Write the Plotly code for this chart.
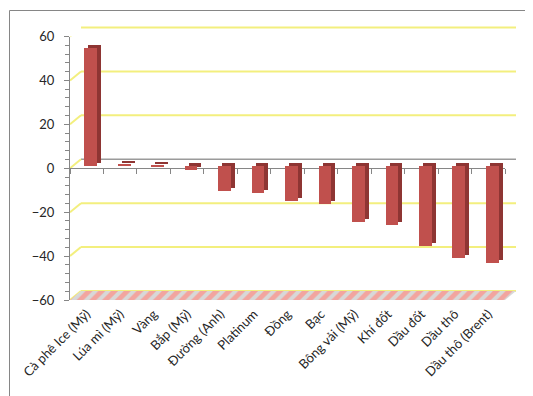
import plotly.graph_objects as go

categories = ["Cà phê Ice (Mỹ)", "Lúa mì (Mỹ)", "Vàng", "Bắp (Mỹ)", "Đường (Anh)",
              "Platinum", "Đồng", "Bạc", "Bông vải (Mỹ)", "Khí đốt", "Dầu đốt",
              "Dầu thô", "Dầu thô (Brent)"]
values = [53.5, 0.8, -0.5, -1.8, -11.5, -12.5, -16, -17.5, -25.5, -27, -36.5, -42, -44.5]
y_ticks = [-60, -40, -20, 0, 20, 40, 60]

W, H = 533, 396
def dx(a, b):
    return [a / W, b / W]
def dy(top, bottom):
    return [(H - bottom) / H, (H - top) / H]

FONT = "Lato"
GRAY = "#868686"
YELLOW = "#F3EF7E"
RED = "#C0504D"
DARK = "#8E3533"
n = len(categories)
xr = [-0.5, n - 0.5]
idx = list(range(n))

fig = go.Figure()

# floor (hatched)
fig.add_trace(go.Scatter(x=[0, 435 / 446, 1, 11 / 446, 0], y=[0, 0, 1, 1, 0],
                         xaxis="x2", yaxis="y2", mode="lines", fill="toself",
                         line=dict(width=0), fillcolor="rgba(0,0,0,0)",
                         fillpattern=dict(shape="/", bgcolor="#F2A59F", fgcolor="#D8D8D8",
                                          size=9, solidity=0.45),
                         hoverinfo="skip", showlegend=False))
# side faces
fig.add_trace(go.Bar(x=idx, y=values, xaxis="x4", yaxis="y4", width=0.38,
                     marker=dict(color=DARK, line=dict(width=0)),
                     hoverinfo="skip", showlegend=False))
# front faces
fig.add_trace(go.Bar(x=idx, y=values, xaxis="x5", yaxis="y5", width=0.38,
                     marker=dict(color=RED, line=dict(width=0)),
                     showlegend=False))
fig.add_trace(go.Scatter(x=[0], y=[0], xaxis="x", yaxis="y", mode="markers",
                         marker=dict(opacity=0), hoverinfo="skip", showlegend=False))
fig.add_trace(go.Scatter(x=[0], y=[0], xaxis="x6", yaxis="y", mode="markers",
                         marker=dict(opacity=0), hoverinfo="skip", showlegend=False))

hidden_x = dict(range=xr, visible=False, fixedrange=True, automargin=False)
hidden_y = dict(range=[-60, 60], visible=False, fixedrange=True, automargin=False)

fig.update_layout(
    template="none",
    width=W, height=H,
    margin=dict(l=0, r=0, t=0, b=0, autoexpand=False),
    paper_bgcolor="white", plot_bgcolor="rgba(0,0,0,0)",
    showlegend=False,
    bargap=0,
    font=dict(family=FONT, size=12, color="#262626"),
    xaxis=dict(domain=dx(62, 497), range=xr, anchor="y", tickmode="array",
               tickvals=idx, ticktext=categories, tickangle=-45, automargin=False,
               showline=False, ticks="", showgrid=False, zeroline=False,
               ticklabelstandoff=3,
               tickfont=dict(family=FONT, size=13, color="#262626")),
    yaxis=dict(domain=dy(28.5, 292), range=[-60, 60], anchor="x", automargin=False,
               tickvals=y_ticks, showgrid=False, zeroline=False,
               showline=True, linecolor=GRAY, linewidth=1,
               ticks="outside", ticklen=5, tickcolor=GRAY, ticklabelstandoff=7,
               minor=dict(dtick=4, ticks="outside", ticklen=4, tickcolor=GRAY, showgrid=False),
               tickfont=dict(family=FONT, size=13, color="#262626")),
    xaxis2=dict(domain=dx(62, 508), range=[0, 1], anchor="y2", visible=False, automargin=False),
    yaxis2=dict(domain=dy(283, 292), range=[0, 1], anchor="x2", visible=False, automargin=False),
    xaxis3=dict(domain=dx(73, 508), range=xr, anchor="y3", visible=False, automargin=False),
    yaxis3=dict(domain=dy(19.5 - 2.2, 283 + 2.2), range=[-61, 61], anchor="x3",
                automargin=False, visible=False),
    xaxis4=dict(domain=dx(70, 505), anchor="y4", **hidden_x),
    yaxis4=dict(domain=dy(22.5, 286), anchor="x4", **hidden_y),
    xaxis5=dict(domain=dx(66, 501), anchor="y5", **hidden_x),
    yaxis5=dict(domain=dy(25.5, 289), anchor="x5", **hidden_y),
    xaxis6=dict(overlaying="x", anchor="free", position=(H - 160) / H, automargin=False,
                range=xr, tickmode="linear", tick0=-0.5, dtick=1,
                ticks="outside", ticklen=5, tickcolor=GRAY,
                showticklabels=False, showline=True, linecolor=GRAY,
                linewidth=1, showgrid=False, zeroline=False),
)

shapes = []
# back-wall gridlines
for v in y_ticks:
    shapes.append(dict(type="line", xref="x3 domain", x0=0, x1=1, yref="y3", y0=v, y1=v,
                       line=dict(color=("#9A9A9A" if v == 0 else YELLOW),
                                 width=(1.5 if v == 0 else 2)), layer="below"))
# side-wall diagonals
for v in y_ticks:
    shapes.append(dict(type="line", xref="paper", xsizemode="pixel", xanchor=62 / W,
                       x0=0, x1=11, yref="y", ysizemode="pixel", yanchor=v,
                       y0=0, y1=9, line=dict(color=YELLOW, width=2), layer="below"))
shapes.append(dict(type="rect", xref="paper", yref="paper",
                   x0=1.5 / W, x1=531.5 / W, y0=(H - 392.5) / H, y1=(H - 2.5) / H,
                   line=dict(color=GRAY, width=1), fillcolor="rgba(0,0,0,0)"))
fig.update_layout(shapes=shapes)

fig.write_html("out.html")
